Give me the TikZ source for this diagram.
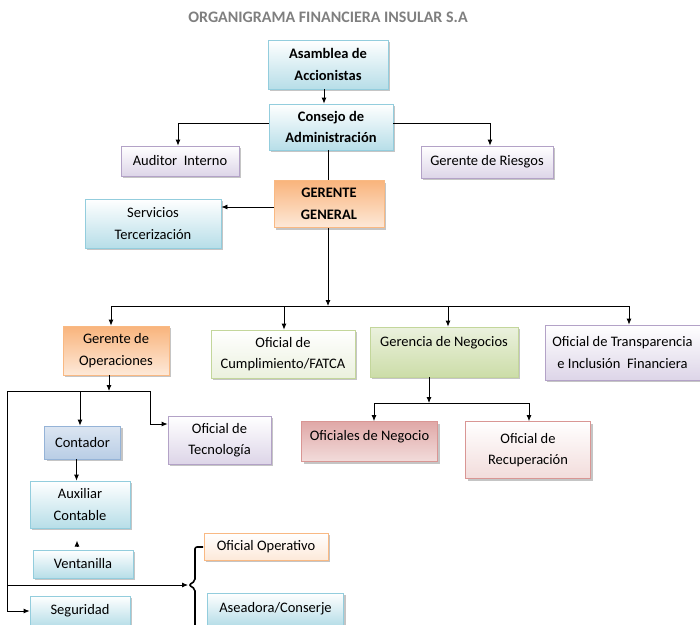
\documentclass[tikz,border=0pt]{standalone}
\usepackage{fontspec}
\setmainfont{Carlito}
\usetikzlibrary{shadows,arrows.meta}
\definecolor{titlegray}{HTML}{7F7F7F}
\definecolor{bluebd}{HTML}{93CDDD}
\definecolor{bluebt}{HTML}{B7DEE8}
\definecolor{orangebd}{HTML}{F9B983}
\definecolor{orangebt}{HTML}{F9B47C}
\definecolor{orangelt}{HTML}{FDE9D9}
\definecolor{purplebd}{HTML}{B3A2C7}
\definecolor{purplebt}{HTML}{DDD5E8}
\definecolor{greenbd}{HTML}{C3D69B}
\definecolor{greenlt}{HTML}{EBF1DE}
\definecolor{greenbt}{HTML}{CCDDA8}
\definecolor{steelbd}{HTML}{95B3D7}
\definecolor{steelbt}{HTML}{B9CDE5}
\definecolor{steellt}{HTML}{DCE6F2}
\definecolor{redbd}{HTML}{D99694}
\definecolor{redbt}{HTML}{E0A8A7}
\definecolor{redlt}{HTML}{F2DCDB}

\begin{document}
\begin{tikzpicture}[x=1pt,y=-1pt,
  box/.style={draw,inner sep=2pt,align=center,line width=0.8pt,
    font=\fontsize{14.5}{21.5}\selectfont,
    drop shadow={shadow xshift=2pt,shadow yshift=-2pt,fill=black!45,opacity=.5}},
  blue/.style={box,draw=bluebd,top color=white,bottom color=bluebt},
  orange/.style={box,draw=orangebd,top color=orangebt,bottom color=orangelt},
  lorange/.style={box,draw=orangebd,top color=white,bottom color=orangelt},
  purple/.style={box,draw=purplebd,top color=white,bottom color=purplebt},
  green/.style={box,draw=greenbd,top color=white,bottom color=greenlt},
  dgreen/.style={box,draw=greenbd,top color=greenlt,bottom color=greenbt},
  steel/.style={box,draw=steelbd,top color=steellt,bottom color=steelbt},
  red/.style={box,draw=redbd,top color=redbt,bottom color=redlt},
  lred/.style={box,draw=redbd,top color=white,bottom color=redlt},
  bold/.style={font=\fontsize{14.5}{21.5}\selectfont\bfseries},
  arr/.style={line width=0.8pt,-{Latex[length=6pt,width=5pt]}},
  line/.style={line width=0.8pt}]
\clip (0,0) rectangle (700,624);
\node[font=\fontsize{16}{19}\selectfont\bfseries,text=titlegray] (tit) at (328,17) {ORGANIGRAMA FINANCIERA INSULAR S.A};
% cabeza
\node[blue,bold,minimum width=120pt,minimum height=49pt] (asam) at (328,64.5) {Asamblea de\\Accionistas};
\node[blue,bold,minimum width=124pt,minimum height=46pt] (cons) at (331,127) {Consejo de\\Administración};
\node[purple,minimum width=118pt,minimum height=30pt] (aud) at (180,161) {Auditor\ \ Interno};
\node[purple,minimum width=132pt,minimum height=32pt] (rie) at (487,162) {Gerente de Riesgos};
\node[orange,bold,minimum width=110pt,minimum height=47pt] (gg) at (329,204) {GERENTE\\GENERAL};
\node[blue,minimum width=136pt,minimum height=49pt] (serv) at (153,223.5) {Servicios\\Tercerización};
% segundo nivel
\node[orange,minimum width=106pt,minimum height=49pt] (ope) at (116,350.5) {Gerente de\\Operaciones};
\node[green,minimum width=144pt,minimum height=48pt] (cum) at (283,354) {Oficial de\\Cumplimiento/FATCA};
\node[dgreen,minimum width=148pt,minimum height=50pt] (neg) at (444,352) {Gerencia de Negocios\\~};
\node[purple,minimum width=155pt,minimum height=55pt] (tra) at (622.5,352.5) {Oficial de Transparencia\\e Inclusión\ \ Financiera};
% operaciones
\node[steel,minimum width=76pt,minimum height=33pt] (cont) at (82.5,442.5) {Contador};
\node[purple,minimum width=103pt,minimum height=48pt] (tec) at (219.5,440) {Oficial de\\Tecnología};
\node[blue,minimum width=100pt,minimum height=47pt] (aux) at (80,504.5) {Auxiliar\\Contable};
\node[blue,minimum width=100pt,minimum height=28pt] (vent) at (83,564) {Ventanilla};
\node[blue,minimum width=100pt,minimum height=30pt] (seg) at (80,611) {Seguridad};
\node[lorange,minimum width=124pt,minimum height=27pt] (opv) at (266,546.5) {Oficial Operativo};
\node[blue,minimum width=136pt,minimum height=32pt] (asc) at (275.5,609) {Aseadora/Conserje};
% negocios
\node[red,minimum width=136pt,minimum height=40pt] (ofn) at (369.5,441.5) {Oficiales de Negocio\\[-9pt]~};
\node[lred,minimum width=125pt,minimum height=57pt] (rec) at (528,450) {Oficial de\\Recuperación};
% puntos de las lineas
\coordinate (g0) at (328,306);
\coordinate (g1) at (111,306);
\coordinate (g2) at (284,306);
\coordinate (g3) at (448,306);
\coordinate (g4) at (629,306);
\coordinate (o0) at (109,391);
\coordinate (o1) at (7,391);
\coordinate (o2) at (150,391);
\coordinate (o3) at (80,391);
\coordinate (o4) at (7,585);
\coordinate (br) at (188,585);
\coordinate (n0) at (429,403);
\coordinate (n1) at (374,403);
\coordinate (n2) at (529,403);
% conexiones
\draw[arr] ([xshift=-4pt]asam.south) -- ([xshift=-4pt]asam.south |- cons.north);
\draw[arr] ([yshift=4pt]cons.west) -| ([xshift=-2pt]aud.north);
\draw[arr] ([yshift=4pt]cons.east) -| ([xshift=3pt]rie.north);
\draw[line] ([xshift=-3pt]cons.south) -- ([xshift=-3pt]cons.south |- gg.north);
\draw[arr] ([yshift=-3pt]gg.west) -- ([yshift=-3pt]gg.west -| serv.east);
\draw[arr] (gg.south -| g0) -- (g0);
\draw[line] (g1) -- (g4);
\draw[arr] (g1) -- (g1 |- ope.north);
\draw[arr] (g2) -- (g2 |- cum.north);
\draw[arr] (g3) -- (g3 |- neg.north);
\draw[arr] (g4) -- (g4 |- tra.north);
\draw[arr] (ope.south -| o0) -- (o0);
\draw[line] (o1) -- (o2);
\draw[arr] (o3) -- (o3 |- cont.north);
\draw[arr] (o2) |- ([yshift=16pt]tec.west);
\draw[arr] ([xshift=-6pt]cont.south) -- ([xshift=-6pt]cont.south |- aux.north);
\draw[arr] ([xshift=-6pt,yshift=3pt]vent.north) -- ([xshift=-6pt,yshift=9pt]vent.north);
\draw[arr] (o1) |- (seg.west);
\draw[arr] (o4) -- (br);
\draw[line width=1.6pt,rounded corners=2pt] (203,547) -- (195,547) -- (195,581) -- (189,585) -- (195,589) -- (195,640);
\draw[arr] (neg.south -| n0) -- (n0);
\draw[line] (n1) -- (n2);
\draw[arr] (n1) -- (n1 |- ofn.north);
\draw[arr] (n2) -- (n2 |- rec.north);
\end{tikzpicture}
\end{document}
